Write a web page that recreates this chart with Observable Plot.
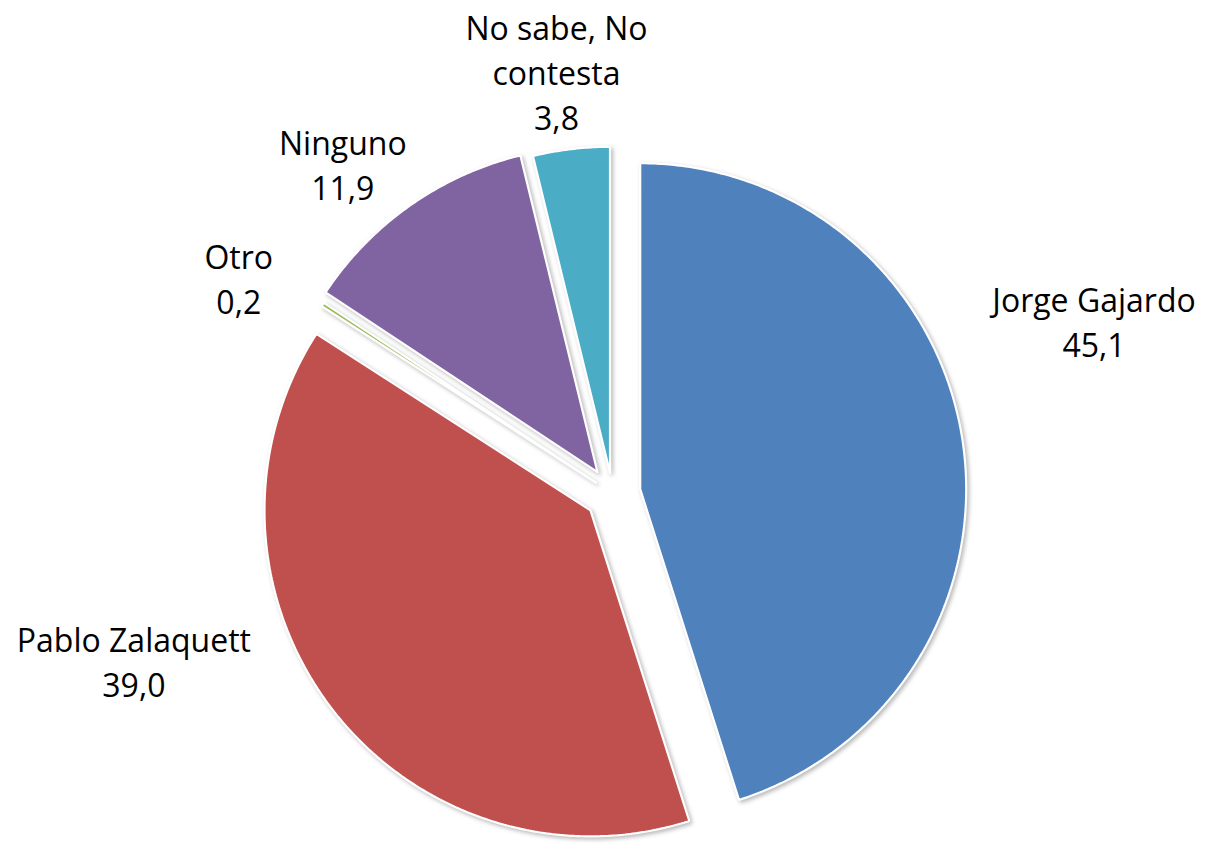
<!DOCTYPE html>
<html>
<head>
<meta charset="utf-8">
<script src="https://cdn.jsdelivr.net/npm/d3@7"></script>
<script src="https://cdn.jsdelivr.net/npm/@observablehq/plot@0.6"></script>
<style>
  html, body { margin: 0; padding: 0; background: #fff; }
  #chart svg { display: block; }
</style>
</head>
<body>
<div id="chart"></div>
<script>
// ---- data ----
const categories = ["Jorge Gajardo", "Pablo Zalaquett", "Otro", "Ninguno", "No sabe, No contesta"];
const labelTexts = ["Jorge Gajardo", "Pablo Zalaquett", "Otro", "Ninguno", "No sabe, No\ncontesta"];
const values = [45.1, 39.0, 0.2, 11.9, 3.8];
const colors = ["#4F81BD", "#C0504D", "#9BBB59", "#8064A2", "#4BACC6"];

// ---- layout (pie units: radius = 1) ----
const explode = [0.086, 0.085, 0.061, 0.08, 0.064];
const labelRadius = [1.57, 1.555, 1.324, 1.309, 1.309];
const labelAngleShift = [-11, 18.2, -3.1, -4.1, -0.7];

const W = 1205, H = 843;
const cx = 612, cy = 493, R = 326;
const xDomain = [-cx / R, (W - cx) / R];
const yDomain = [(cy - H) / R, cy / R];

const total = d3.sum(values);
const rad = d => d * Math.PI / 180;
const pt = (ang, r) => [r * Math.sin(rad(ang)), r * Math.cos(rad(ang))];

let start = 0;
const slices = categories.map((c, i) => {
  const a0 = start, a1 = start + values[i] / total * 360;
  start = a1;
  const mid = (a0 + a1) / 2;
  const [ox, oy] = pt(mid, explode[i]);
  const pts = [{x: ox, y: oy}];
  const n = Math.max(2, Math.ceil((a1 - a0) / 0.5));
  for (let k = 0; k <= n; k++) {
    const a = a0 + (a1 - a0) * k / n;
    const [px, py] = pt(a, 1);
    pts.push({x: ox + px, y: oy + py});
  }
  pts.push({x: ox, y: oy});
  const [lx, ly] = pt(mid + labelAngleShift[i], labelRadius[i]);
  return {category: c, color: colors[i], pts, mid,
          label: {x: lx, y: ly, text: labelTexts[i] + "\n" + values[i].toFixed(1).replace(".", ",")}};
});

const marks = slices.map(s => Plot.line(s.pts, {
  x: "x", y: "y", fill: s.color, stroke: "#ffffff", strokeWidth: 2.2,
  strokeLinejoin: "miter", curve: "linear"
}));
marks.push(Plot.text(slices.map(s => s.label), {
  x: "x", y: "y", text: "text", fontSize: 32, lineHeight: 1.4,
  lineAnchor: "middle", textAnchor: "middle", fill: "#000",
  fontFamily: "'Open Sans', Lato, sans-serif"
}));

const chart = Plot.plot({
  width: W, height: H,
  margin: 0,
  x: {domain: xDomain, axis: null},
  y: {domain: yDomain, axis: null},
  style: {background: "#fff", fontFamily: "'Open Sans', sans-serif"},
  marks
});
chart.querySelectorAll('g[aria-label="line"]').forEach(g => {
  g.style.filter = "drop-shadow(2px 2px 2px rgba(0,0,0,0.28))";
});
document.getElementById("chart").appendChild(chart);
</script>
</body>
</html>
